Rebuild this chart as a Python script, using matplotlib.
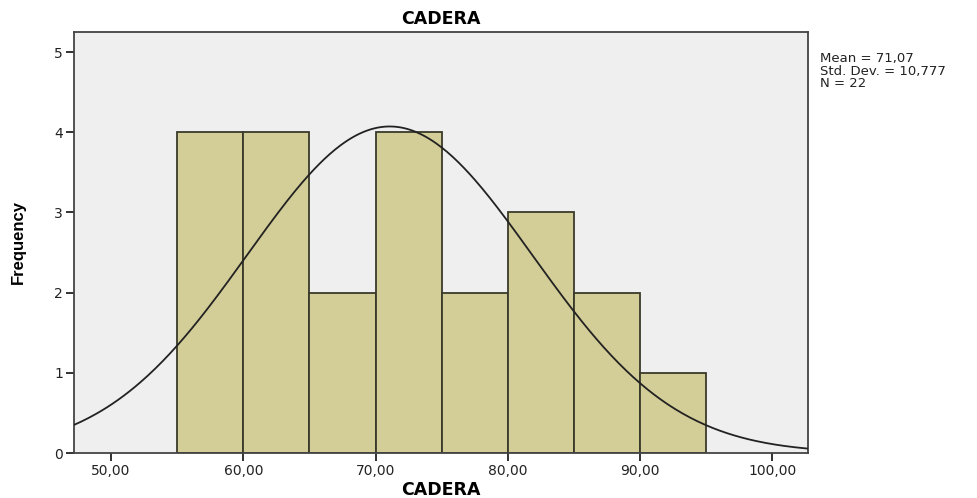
import numpy as np
import matplotlib
matplotlib.use("Agg")
import matplotlib.pyplot as plt

bin_edges = [55, 60, 65, 70, 75, 80, 85, 90, 95]
counts = [4, 4, 2, 4, 2, 3, 2, 1]
mean = 71.07
std = 10.777
n = 22
x_ticks = [50, 60, 70, 80, 90, 100]
x_tick_labels = ["50,00", "60,00", "70,00", "80,00", "90,00", "100,00"]
y_ticks = [0, 1, 2, 3, 4, 5]

plt.rcParams['font.family'] = ['DejaVu Sans']

fig = plt.figure(figsize=(9.77, 4.98), dpi=100)
ax = fig.add_axes([74/977, 45/498, (808-74)/977, (453-32)/498])
ax.set_facecolor('#efefef')

lefts = bin_edges[:-1]
widths = np.diff(bin_edges)
ax.bar(lefts, counts, width=widths, align='edge', color='#d3cd97',
       edgecolor='#3a3a2a', linewidth=1.3, zorder=2)

xs = np.linspace(47.2, 102.7, 400)
bw = bin_edges[1] - bin_edges[0]
ys = n * bw / (std * np.sqrt(2*np.pi)) * np.exp(-0.5*((xs-mean)/std)**2)
ax.plot(xs, ys, color='#222222', linewidth=1.3, zorder=3)

ax.set_xlim(47.2, 102.7)
ax.set_ylim(0, 5.25)
ax.set_xticks(x_ticks)
ax.set_xticklabels(x_tick_labels)
ax.set_yticks(y_ticks)
ax.tick_params(axis='both', labelsize=10, color='#222222', length=6, width=1.3,
               pad=2, labelcolor='#222222')
for s in ax.spines.values():
    s.set_color('#444444')
    s.set_linewidth(1.3)

ax.set_title('CADERA', fontsize=12.5, fontweight='bold', pad=6)
ax.set_xlabel('CADERA', fontsize=12.5, fontweight='bold', labelpad=2)
ax.set_ylabel('Frequency', fontsize=12, fontweight='bold', labelpad=20,
              family='Liberation Sans')

fig.text(820/977, 1 - 52/498, 'Mean = 71,07\nStd. Dev. = 10,777\nN = 22',
         fontsize=9.5, va='top', ha='left', linespacing=0.95, color='#222222')

fig.savefig('out.png', dpi=100)
